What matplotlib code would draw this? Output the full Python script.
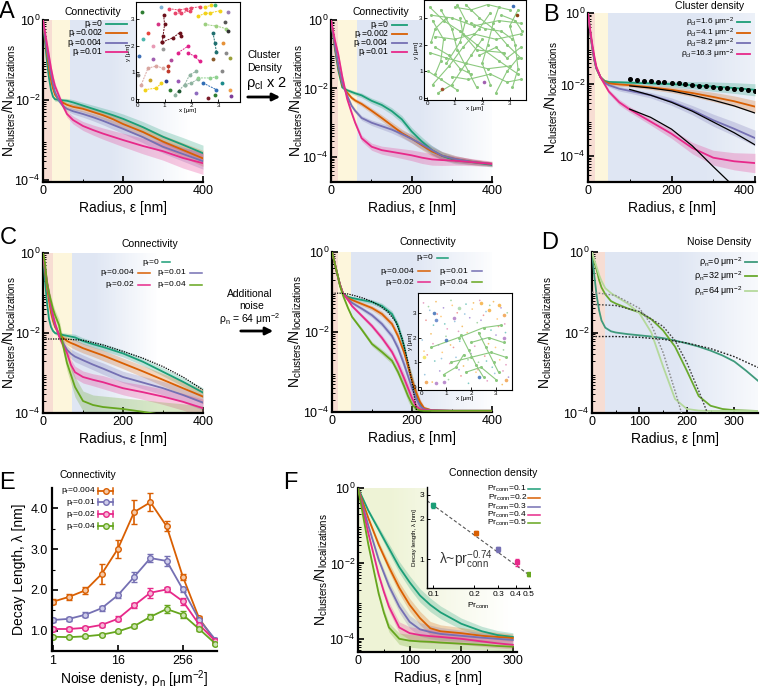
import numpy as np
import matplotlib
matplotlib.use('Agg')
import matplotlib.pyplot as plt
from matplotlib.lines import Line2D
from matplotlib.patches import FancyArrowPatch
from matplotlib.ticker import LogLocator, NullFormatter, NullLocator
from matplotlib.colors import to_rgb

plt.rcParams['font.family'] = ['Liberation Sans', 'DejaVu Sans']
plt.rcParams['mathtext.fontset'] = 'custom'
plt.rcParams['mathtext.rm'] = 'Liberation Sans'
plt.rcParams['mathtext.it'] = 'Liberation Sans:italic'
plt.rcParams['mathtext.bf'] = 'Liberation Sans:bold'

W, H = 763, 692
TEAL, ORANGE, PURPLE, PINK, LIME = '#1b9e77', '#d95f02', '#7570b3', '#e7298a', '#66a61e'

# ---------------- data (log10 of Nclusters/Nlocalizations) ----------------
# A: connectivity, base cluster density
r_a = [0, 5, 10, 15, 20, 25, 30, 40, 50, 60, 75, 100, 125, 150, 175, 200, 250, 300, 350, 400]
a_p0 = [0, -0.55, -1.05, -1.45, -1.75, -1.92, -1.98, -2.0, -2.01, -2.02, -2.06, -2.14, -2.22, -2.3, -2.38, -2.47, -2.68, -2.92, -3.12, -3.33]
a_p002 = [0, -0.45, -0.85, -1.2, -1.5, -1.72, -1.87, -2.0, -2.07, -2.12, -2.17, -2.22, -2.3, -2.38, -2.48, -2.6, -2.8, -3.04, -3.25, -3.46]
a_p004 = [0, -0.4, -0.75, -1.05, -1.35, -1.6, -1.8, -2.02, -2.15, -2.22, -2.28, -2.35, -2.43, -2.52, -2.62, -2.72, -2.93, -3.17, -3.35, -3.53]
a_p01 = [0, -0.3, -0.6, -0.9, -1.2, -1.45, -1.65, -1.9, -2.15, -2.35, -2.5, -2.65, -2.75, -2.84, -2.92, -3.0, -3.15, -3.28, -3.45, -3.58]
a_err = [0, 0.02, 0.03, 0.04, 0.04, 0.05, 0.05, 0.05, 0.05, 0.06, 0.07, 0.08, 0.09, 0.1, 0.11, 0.12, 0.14, 0.16, 0.18, 0.2]

# A2: cluster density x 2
r_a2 = [0, 10, 18, 28, 40, 51, 60, 76, 101, 126, 151, 176, 200, 226, 251, 276, 309, 350, 400]
a2_p0 = [0, -0.87, -1.46, -1.97, -2.05, -2.1, -2.14, -2.2, -2.36, -2.48, -2.66, -2.9, -3.25, -3.55, -3.8, -3.97, -4.1, -4.15, -4.23]
a2_p002 = [0, -0.8, -1.35, -1.9, -2.12, -2.27, -2.35, -2.45, -2.65, -2.86, -3.08, -3.3, -3.46, -3.66, -3.84, -3.96, -4.06, -4.14, -4.2]
a2_p004 = [0, -0.75, -1.3, -1.85, -2.2, -2.5, -2.65, -2.86, -3.0, -3.1, -3.2, -3.33, -3.47, -3.63, -3.8, -3.96, -4.06, -4.14, -4.2]
a2_p01 = [0, -0.6, -1.0, -1.65, -2.3, -2.7, -3.0, -3.45, -3.7, -3.8, -3.85, -3.9, -3.95, -4.02, -4.07, -4.09, -4.11, -4.15, -4.2]
a2_err = [0, 0.03, 0.04, 0.05, 0.05, 0.06, 0.06, 0.07, 0.08, 0.09, 0.1, 0.11, 0.12, 0.13, 0.13, 0.12, 0.1, 0.08, 0.06]

# B: cluster density
r_b = [0, 5, 10, 15, 20, 30, 40, 50, 75, 100, 150, 200, 250, 300, 350, 400]
b_16 = [0, -0.5, -0.95, -1.3, -1.55, -1.8, -1.9, -1.93, -1.94, -1.95, -1.97, -1.99, -2.02, -2.06, -2.1, -2.15]
b_41 = [0, -0.5, -0.95, -1.3, -1.55, -1.8, -1.92, -1.97, -2.0, -2.02, -2.08, -2.15, -2.24, -2.35, -2.47, -2.62]
b_82 = [0, -0.5, -0.95, -1.3, -1.55, -1.8, -1.95, -2.02, -2.12, -2.18, -2.3, -2.48, -2.72, -3.0, -3.24, -3.5]
b_163 = [0, -0.45, -0.85, -1.2, -1.5, -1.8, -2.0, -2.2, -2.5, -2.7, -3.04, -3.38, -3.78, -4.05, -4.15, -4.2]
b_err = [0, 0.02, 0.03, 0.03, 0.03, 0.04, 0.04, 0.04, 0.05, 0.05, 0.06, 0.08, 0.1, 0.13, 0.15, 0.17]
r_bdots = [100, 117, 133, 150, 167, 183, 200, 217, 233, 250, 267, 283, 300, 317, 333, 350, 367, 383, 400]
b_dots16 = [-1.86, -1.87, -1.89, -1.9, -1.92, -1.93, -1.95, -1.97, -1.99, -2.01, -2.03, -2.05, -2.07, -2.09, -2.1, -2.12, -2.14, -2.15, -2.17]
r_bfit = [100, 150, 200, 250, 300, 350, 400]
b_fit41 = [-2.04, -2.1, -2.18, -2.3, -2.44, -2.6, -2.8]
b_fit82 = [-2.14, -2.3, -2.5, -2.75, -3.05, -3.35, -3.69]
r_bfit163 = [100, 150, 200, 250, 300, 340]
b_fit163 = [-2.69, -2.92, -3.25, -3.72, -4.3, -4.75]

# C: connectivity, no noise
r_c = [0, 5, 10, 15, 20, 25, 30, 40, 50, 60, 70, 80, 100, 125, 150, 200, 250, 300, 350, 400]
c_p0 = [0, -0.7, -1.25, -1.65, -1.85, -1.95, -2.0, -2.03, -2.05, -2.07, -2.09, -2.11, -2.2, -2.28, -2.35, -2.51, -2.72, -2.97, -3.22, -3.49]
c_p004 = [0, -0.45, -0.85, -1.2, -1.5, -1.7, -1.85, -2.02, -2.12, -2.2, -2.25, -2.29, -2.38, -2.47, -2.56, -2.76, -2.96, -3.17, -3.38, -3.59]
c_p01 = [0, -0.4, -0.75, -1.05, -1.35, -1.6, -1.8, -2.05, -2.25, -2.42, -2.52, -2.59, -2.68, -2.79, -2.89, -3.1, -3.24, -3.38, -3.55, -3.74]
c_p02 = [0, -0.35, -0.7, -1.0, -1.3, -1.55, -1.75, -2.08, -2.3, -2.5, -2.8, -2.98, -3.1, -3.17, -3.23, -3.38, -3.48, -3.59, -3.72, -3.88]
c_p04 = [0, -0.25, -0.75, -1.0, -1.2, -1.4, -1.55, -1.8, -2.3, -2.75, -3.05, -3.35, -3.7, -3.8, -3.85, -3.9, -3.97, -4.05, -4.12, -4.2]
c_err = [0, 0.02, 0.03, 0.04, 0.04, 0.05, 0.05, 0.06, 0.07, 0.08, 0.09, 0.1, 0.1, 0.1, 0.11, 0.11, 0.12, 0.13, 0.14, 0.15]
r_cfit = [0, 50, 100, 150, 200, 250, 300, 350, 400]
c_fit = [-2.15, -2.15, -2.18, -2.3, -2.46, -2.63, -2.84, -3.1, -3.42]

# C2: connectivity + noise 64 um^-2
r_c2 = [0, 5, 10, 15, 20, 28, 40, 50, 75, 100, 125, 150, 165, 180, 190, 200, 210, 220, 230, 250, 300, 350, 400]
c2_p0 = [0, -0.2, -0.42, -0.62, -0.82, -1.05, -1.12, -1.15, -1.2, -1.25, -1.35, -1.55, -1.85, -2.35, -2.85, -3.2, -3.55, -3.8, -3.93, -3.96, -3.97, -3.97, -3.97]
c2_p004 = [0, -0.2, -0.42, -0.62, -0.82, -1.05, -1.15, -1.2, -1.3, -1.4, -1.55, -1.8, -2.1, -2.5, -2.85, -3.2, -3.5, -3.75, -3.9, -3.96, -3.97, -3.97, -3.97]
c2_p01 = [0, -0.2, -0.42, -0.62, -0.82, -1.05, -1.18, -1.27, -1.42, -1.58, -1.8, -2.1, -2.4, -2.8, -3.1, -3.4, -3.65, -3.85, -3.93, -3.96, -3.97, -3.97, -3.97]
c2_p02 = [0, -0.2, -0.42, -0.62, -0.82, -1.05, -1.2, -1.35, -1.6, -1.85, -2.15, -2.5, -2.8, -3.15, -3.4, -3.65, -3.85, -3.93, -3.95, -3.96, -3.97, -3.97, -3.97]
c2_p04 = [0, -0.2, -0.42, -0.62, -0.85, -1.1, -1.4, -1.62, -1.95, -2.3, -2.5, -2.72, -3.0, -3.35, -3.6, -3.8, -3.92, -3.96, -3.97, -3.97, -3.97, -3.97, -3.97]
c2_err = [0, 0.02, 0.02, 0.03, 0.03, 0.03, 0.04, 0.04, 0.05, 0.06, 0.07, 0.08, 0.1, 0.12, 0.13, 0.14, 0.12, 0.08, 0.05, 0.03, 0.02, 0.02, 0.02]
r_c2fit = [0, 20, 40, 60, 80, 100, 120, 140, 160, 175, 190, 200, 212]
c2_fit = [-1.03, -1.03, -1.05, -1.1, -1.16, -1.24, -1.35, -1.5, -1.75, -2.15, -2.75, -3.25, -4.0]

# D: noise density
r_d = [0, 5, 10, 15, 20, 28, 40, 50, 75, 100, 125, 150, 175, 200, 225, 250, 275, 300, 325, 350]
d_0 = [0, -0.6, -1.1, -1.45, -1.7, -1.88, -1.97, -2.0, -2.04, -2.07, -2.1, -2.14, -2.2, -2.27, -2.35, -2.45, -2.57, -2.72, -2.95, -3.2]
d_32 = [0, -0.25, -0.45, -0.7, -0.88, -1.05, -1.22, -1.28, -1.4, -1.5, -1.67, -1.95, -2.35, -2.95, -3.58, -3.82, -3.9, -3.93, -3.94, -3.95]
d_64 = [0, -0.2, -0.38, -0.57, -0.72, -0.9, -1.02, -1.1, -1.28, -1.52, -2.0, -2.85, -3.65, -3.9, -3.94, -3.95, -3.95, -3.95, -3.95, -3.95]
r_dfit0 = [0, 50, 100, 150, 200, 250, 300, 350]
d_fit0 = [-2.1, -2.1, -2.12, -2.17, -2.26, -2.4, -2.6, -2.87]
r_dfit32 = [0, 50, 100, 150, 175, 200, 225, 245]
d_fit32 = [-1.3, -1.33, -1.48, -1.85, -2.2, -2.75, -3.45, -4.05]
r_dfit64 = [0, 50, 100, 125, 150, 175, 190]
d_fit64 = [-1.0, -1.08, -1.4, -1.8, -2.5, -3.45, -4.05]

# E: decay length vs noise density
e_rho = [1, 2, 4, 8, 16, 32, 64, 128, 256, 512, 1024]
e_004 = [1.71, 1.83, 1.99, 2.39, 3.01, 3.91, 4.15, 3.56, 2.32, 1.30, 0.74]
e_004_err = [0.06, 0.08, 0.09, 0.24, 0.22, 0.3, 0.22, 0.12, 0.08, 0.05, 0.04]
e_01 = [1.26, 1.29, 1.39, 1.55, 1.87, 2.32, 2.78, 2.71, 2.01, 1.27, 0.78]
e_01_err = [0.05, 0.05, 0.06, 0.06, 0.07, 0.13, 0.1, 0.12, 0.06, 0.05, 0.04]
e_02 = [1.04, 1.04, 1.07, 1.14, 1.29, 1.62, 1.93, 2.01, 1.72, 1.15, 0.74]
e_02_err = [0.04, 0.04, 0.04, 0.05, 0.06, 0.07, 0.12, 0.07, 0.08, 0.05, 0.04]
e_04 = [0.85, 0.84, 0.86, 0.90, 0.98, 1.11, 1.34, 1.53, 1.39, 1.04, 0.68]
e_04_err = [0.03, 0.03, 0.03, 0.04, 0.04, 0.05, 0.06, 0.1, 0.08, 0.05, 0.04]

# F: connection density
r_f = [0, 10, 20, 30, 40, 50, 60, 80, 100, 120, 140, 160, 200, 240, 270, 300]
f_01 = [0, -0.3, -0.6, -0.85, -1.1, -1.35, -1.6, -2.1, -2.5, -2.85, -3.1, -3.3, -3.6, -3.8, -3.9, -3.95]
f_02 = [0, -0.4, -0.8, -1.15, -1.5, -1.8, -2.1, -2.65, -3.1, -3.45, -3.72, -3.8, -3.85, -3.92, -3.95, -3.98]
f_03 = [0, -0.5, -1.0, -1.45, -1.9, -2.25, -2.6, -3.15, -3.55, -3.75, -3.82, -3.87, -3.92, -3.97, -4.0, -4.03]
f_04 = [0, -0.6, -1.2, -1.75, -2.3, -2.75, -3.15, -3.7, -3.85, -3.9, -3.93, -3.95, -4.0, -4.07, -4.12, -4.16]
f_05 = [0, -0.75, -1.5, -2.15, -2.8, -3.3, -3.7, -4.0, -4.05, -4.07, -4.08, -4.1, -4.13, -4.16, -4.19, -4.21]
f_err = [0, 0.03, 0.05, 0.06, 0.08, 0.1, 0.12, 0.15, 0.17, 0.18, 0.18, 0.17, 0.15, 0.13, 0.12, 0.11]
conn_p = [0.1, 0.207, 0.30, 0.41, 0.5]
conn_lam = [2.52, 1.56, 1.18, 0.95, 0.77]
conn_err = [0.1, 0.06, 0.05, 0.06, 0.02]
conn_fit_p = [0.09, 0.51]
conn_fit_lam = [2.72, 0.755]

# inset A: isolated clusters (x, y in um) and connected chains
ins_a_pts = [(0.16, 3.25, '#2e7d32'), (0.88, 3.45, '#7fb3d5'), (2.88, 3.5, '#3cb371'), (3.38, 3.25, '#9b7fb3'),
             (0.75, 2.79, '#d63384'), (0.38, 2.48, '#e8453c'), (3.38, 2.54, '#333333'), (0.19, 2.23, '#4db6ac'),
             (0.56, 1.98, '#e89ab5'), (0.94, 1.88, '#999999'), (3.19, 2.1, '#e69138'), (3.31, 1.73, '#8a8a8a'),
             (0.06, 1.6, '#3d6fb6'), (0.56, 1.48, '#a05fb0'), (2.81, 1.48, '#8b5a2b'), (3.44, 1.54, '#9aa03a'),
             (0.44, 0.73, '#c9a227'), (1.19, 0.35, '#2e7d32'), (1.06, 0.66, '#2b3d8f'), (1.5, 0.66, '#9b59b6'),
             (2.19, 0.23, '#8e6bbf'), (2.63, 0.04, '#7b1d2a'), (2.88, 0.16, '#2e7d32'), (3.5, 0.1, '#7d3c98'),
             (3.44, 0.35, '#f0a04b'), (3.13, 0.6, '#1b8a8a'), (3.13, 1.04, '#888888'), (1.54, 0.29, '#1e5631'),
             (0.02, 0.9, '#777777'), (3.25, 2.9, '#555555'), (1.25, 1.45, '#b04a9b')]
ins_a_chains = [('#e8456b', [1.16, 1.54, 1.81, 2.0, 2.31], [3.38, 3.33, 3.38, 3.41, 3.45]),
                ('#e8456b', [1.4, 1.63, 1.94], [3.2, 3.23, 3.29]),
                ('#f2d21b', [2.25, 2.5, 2.69, 3.06], [3.1, 3.2, 3.22, 3.3]),
                ('#f2d21b', [2.5, 2.75], [3.45, 3.5]),
                ('#6b0f1a', [0.96, 1.0, 0.94, 0.91], [3.16, 2.79, 2.35, 2.13]),
                ('#6b0f1a', [0.91, 1.31, 1.56, 1.63], [2.13, 2.29, 2.48, 2.35]),
                ('#9ccf7f', [2.5, 2.94, 3.31], [2.79, 2.73, 2.63]),
                ('#1f6f6f', [2.81, 2.88, 2.94], [2.48, 2.1, 1.75]),
                ('#e0218a', [1.5, 1.88], [1.73, 1.98]),
                ('#e0218a', [1.88, 2.13, 2.31], [1.72, 1.6, 1.41]),
                ('#d9a6a0', [0.13, 0.38, 0.69, 0.94], [0.54, 1.16, 1.23, 1.16]),
                ('#c0392b', [1.13, 1.13], [1.04, 1.22]),
                ('#f2d21b', [0.25, 0.69, 0.88], [0.35, 0.41, 0.6]),
                ('#8fb3a0', [1.38, 1.75, 1.94, 2.19], [0.16, 0.54, 0.91, 1.04]),
                ('#8fb3a0', [1.75, 2.0, 2.25], [0.54, 0.6, 0.75]),
                ('#8fd18f', [2.25, 2.69, 2.94], [0.79, 0.79, 0.83]),
                ('#2f6db5', [2.44, 2.94], [0.6, 0.35])]

# inset A2: one big connected network
ins_a2_net = [([0.1, 0.6, 1.2, 1.8, 2.6, 3.3], [3.4, 2.9, 2.5, 2.0, 1.4, 0.9]),
              ([0.2, 0.8, 1.3, 1.9, 2.3], [0.5, 1.2, 1.9, 2.6, 3.2]),
              ([0.3, 1.0, 1.7, 2.5, 3.4], [2.3, 2.2, 2.4, 2.2, 2.4]),
              ([0.5, 0.9, 1.1, 1.5, 1.8], [3.3, 2.6, 1.8, 1.0, 0.4]),
              ([1.4, 1.9, 2.4, 2.9, 3.4], [3.5, 3.0, 2.6, 2.0, 1.5]),
              ([0.1, 0.7, 1.4, 2.2, 3.0], [1.7, 1.5, 1.3, 1.1, 1.2]),
              ([2.6, 2.4, 2.2, 2.0, 2.3], [3.4, 2.8, 2.0, 1.3, 0.5]),
              ([0.2, 0.6, 0.5, 0.3], [2.9, 2.2, 1.4, 0.9]),
              ([1.0, 1.6, 2.2, 3.0], [3.4, 3.3, 3.5, 3.3]),
              ([3.3, 3.0, 3.2, 3.3, 3.1], [3.3, 2.7, 2.0, 1.1, 0.4]),
              ([0.9, 1.5, 2.3, 2.9, 3.4], [0.8, 0.7, 0.9, 0.6, 0.7]),
              ([0.4, 0.9, 1.6, 2.0], [0.2, 0.5, 1.6, 2.2]),
              ([1.2, 1.3, 1.8, 2.8], [3.0, 2.4, 1.8, 1.7]),
              ([0.05, 0.5, 1.1], [1.0, 0.7, 0.3]),
              ([2.7, 3.2, 3.45], [3.1, 2.9, 2.5]),
              ([1.6, 2.1, 2.7, 3.1], [2.8, 2.6, 2.5, 2.2]),
              ([0.7, 0.3, 0.15], [3.0, 2.6, 2.1]),
              ([1.9, 2.5, 2.9, 3.4], [1.6, 1.9, 1.5, 1.9]),
              ([0.15, 0.9, 1.7, 2.6, 3.4], [3.1, 3.0, 2.7, 2.9, 2.8]),
              ([0.3, 0.8, 1.2, 1.6], [1.9, 1.6, 1.1, 0.9]),
              ([2.5, 2.9, 3.3], [0.2, 1.0, 1.5]),
              ([1.1, 1.4, 1.2, 0.7], [3.5, 2.9, 2.1, 1.3])]
ins_a2_pts = [(0.56, 0.33, '#a0522d'), (2.05, 0.61, '#a05fb0'), (3.11, 3.45, '#3d6fb6'), (3.26, 3.11, '#8b4513')]

# inset C2: network plus clusters plus noise localizations
ins_c2_net = [([0.4, 1.5, 2.5, 3.2], [1.6, 2.0, 2.4, 2.5]),
              ([1.6, 1.9, 2.2, 2.5], [2.1, 1.5, 0.9, 0.4]),
              ([1.2, 2.0, 2.8, 3.4], [1.0, 1.2, 1.4, 1.2]),
              ([2.3, 2.6, 2.9, 3.1], [2.2, 1.6, 1.0, 0.6]),
              ([1.8, 2.4, 3.0], [0.6, 0.8, 0.3]),
              ([0.9, 1.4, 1.7], [0.5, 0.8, 1.3]),
              ([2.0, 2.7, 3.3], [1.8, 2.0, 1.8])]
ins_c2_clusters = [(2.4, 3.4, '#f5b041'), (2.7, 3.1, '#f5b041'), (3.3, 2.9, '#f0a04b'), (3.1, 3.3, '#f5b041'),
                   (0.5, 3.0, '#3d6fb6'), (0.6, 2.7, '#5b7fc7'), (1.0, 1.9, '#3d6fb6'), (2.3, 0.4, '#3d6fb6'),
                   (1.3, 2.8, '#b07cc6'), (0.9, 0.2, '#b07cc6'), (0.2, 0.2, '#f0a04b'), (0.6, 0.15, '#b07cc6'),
                   (3.4, 0.3, '#f0a04b'), (0.1, 1.2, '#f2e35a'), (1.5, 3.2, '#a5d6a7'), (3.3, 2.0, '#b07cc6')]
noise_x = [0.1, 0.35, 0.6, 0.9, 1.2, 1.45, 1.8, 2.05, 2.35, 2.6, 2.9, 3.2, 3.45, 0.2, 0.5, 0.8, 1.05, 1.35, 1.65, 1.95,
           2.25, 2.5, 2.8, 3.05, 3.35, 0.05, 0.4, 0.7, 1.0, 1.3, 1.55, 1.85, 2.15, 2.45, 2.7, 3.0, 3.3, 0.25, 0.55, 0.85,
           1.15, 1.4, 1.7, 2.0, 2.3, 2.55, 2.85, 3.15, 3.4, 0.15, 0.45, 0.75, 1.1, 1.6, 1.9, 2.2, 2.65, 2.95, 3.25, 3.5,
           0.3, 0.65, 0.95, 1.25, 1.5, 1.75, 2.1, 2.4, 2.75, 3.1, 3.38, 0.12, 0.48, 0.82, 1.18, 1.52, 1.88, 2.28, 2.62,
           2.98, 3.28]
noise_y = [3.4, 3.1, 3.45, 3.2, 3.5, 3.0, 3.35, 3.15, 3.5, 3.05, 3.45, 3.2, 3.0, 2.7, 2.5, 2.85, 2.35, 2.65, 2.45, 2.8,
           2.6, 2.9, 2.3, 2.75, 2.55, 1.9, 2.15, 1.7, 2.05, 1.6, 1.85, 2.2, 1.65, 1.95, 1.75, 2.1, 1.5, 1.3, 1.05, 1.4,
           0.95, 1.2, 0.85, 1.35, 1.0, 1.25, 0.8, 1.1, 0.9, 0.5, 0.2, 0.65, 0.3, 0.45, 0.15, 0.6, 0.25, 0.55, 0.1, 0.4,
           3.25, 2.95, 2.55, 3.3, 2.25, 2.95, 3.4, 2.7, 3.3, 2.45, 2.2, 1.45, 1.75, 1.15, 1.7, 0.7, 1.1, 0.7, 1.05,
           1.6, 0.65]
noise_cols = ['#e6a0c4', '#9ec9e2', '#f5c16c', '#b39ddb', '#a5d6a7', '#ef9a9a', '#80cbc4', '#ffcc80']

NLAB = r'N$_{\mathrm{clusters}}$/N$_{\mathrm{localizations}}$'
PINKBG, YELBG, BLUEBG = '#f7ddd3', '#fdf6dc', '#dfe6f3'

fig = plt.figure(figsize=(W / 100, H / 100), dpi=100)


def fx(x):
    return x / W


def fy(y):
    return 1 - y / H


def px_axes(l, t, r, b):
    return fig.add_axes([fx(l), fy(b), (r - l) / W, (b - t) / H])


def ftext(x, y, s, size, ha='left', va='center', **kw):
    fig.text(fx(x), fy(y), s, fontsize=size, ha=ha, va=va, **kw)


def fline(x0, x1, y, color, lw=1.3, **kw):
    fig.add_artist(Line2D([fx(x0), fx(x1)], [fy(y), fy(y)], color=color, lw=lw, **kw))


def backdrop(ax, spans, x_blue, fade_a, fade_b, xmax, color=BLUEBG):
    for x0, x1, c in spans:
        ax.axvspan(x0, x1, color=c, lw=0, zorder=0, antialiased=False)
    rgb = np.array(to_rgb(color))
    edges = np.linspace(x_blue, xmax, 90)
    for a, b in zip(edges[:-1], edges[1:]):
        m = 0.5 * (a + b)
        k = 1.0 if m < fade_a else max(0.0, 1 - (m - fade_a) / (fade_b - fade_a))
        ax.axvspan(a, b, color=1 - k * (1 - rgb), lw=0, zorder=0, antialiased=False)


def radius_axes(rect, xmax, ybot, xmajor, xminor, lab_gap=26):
    ax = px_axes(*rect)
    ax.set_yscale('log')
    ax.set_xlim(0, xmax)
    ax.set_ylim(10 ** ybot, 1)
    ax.set_yticks([1, 1e-2, 1e-4])
    ax.yaxis.set_minor_locator(LogLocator(base=10, subs=np.arange(2, 10), numticks=20))
    ax.yaxis.set_minor_formatter(NullFormatter())
    ax.set_xticks(xmajor)
    ax.set_xticks(xminor, minor=True)
    for s in ['top', 'right']:
        ax.spines[s].set_visible(False)
    for s in ['left', 'bottom']:
        ax.spines[s].set_linewidth(1.6)
    ax.tick_params(direction='in', length=4, width=1.2, labelsize=9, pad=2)
    ax.tick_params(which='minor', direction='in', length=2, width=0.7)
    ax.set_xlabel('Radius, ε [nm]', fontsize=10, labelpad=3)
    ax.set_ylabel(NLAB, fontsize=10)
    ax.yaxis.set_label_coords(-lab_gap / (rect[2] - rect[0]), 0.5)
    return ax


def curve(ax, r, v, c, err=None, lw=1.3, alpha=0.25):
    r = np.asarray(r)
    v = np.asarray(v)
    if err is not None:
        e = np.asarray(err)
        ax.fill_between(r, 10 ** (v - e), 10 ** (v + e), color=c, alpha=alpha, lw=0, zorder=2)
    ax.plot(r, 10 ** v, color=c, lw=lw, zorder=3)


def fitline(ax, r, v, **kw):
    ax.plot(r, 10 ** np.asarray(v), zorder=4, **kw)


def inset_frame(ax, xlim, ylim):
    ax.set_xlim(*xlim)
    ax.set_ylim(*ylim)
    ax.set_facecolor('white')
    ax.set_xticks([0, 1, 2, 3])
    ax.set_yticks([0, 1, 2, 3])
    for s in ax.spines.values():
        s.set_linewidth(0.8)
    ax.tick_params(direction='in', length=2, width=0.6, labelsize=4.5, pad=1)
    ax.set_xlabel('x [μm]', fontsize=4.5, labelpad=0)
    ax.set_ylabel('y [μm]', fontsize=4.5, labelpad=0)


# ---------------- Panel A ----------------
ax = radius_axes((43, 20, 203, 182), 400, -4.05, [0, 200, 400], [100, 300], lab_gap=25)
backdrop(ax, [(0, 22, PINKBG), (22, 67, YELBG)], 67, 170, 370, 400)
for v, c, k in [(a_p0, TEAL, 1), (a_p002, ORANGE, 1), (a_p004, PURPLE, 1), (a_p01, PINK, 1.4)]:
    curve(ax, r_a, v, c, np.asarray(a_err) * k)
ftext(93, 12, 'Connectivity', 7.5, ha='center')
for y, lab, c in [(24, '0', TEAL), (33, '0.002', ORANGE), (43, '0.004', PURPLE), (52, '0.01', PINK)]:
    ftext(103, y, 'p$_{\\mathrm{r}}$=' + lab, 6.2, ha='right')
    fline(106, 127, y, c)

ins = px_axes(136, 2, 240, 102)
inset_frame(ins, (-0.07, 3.82), (-0.11, 3.63))
for col, xs, ys in ins_a_chains:
    ins.plot(xs, ys, ls=(0, (2, 1)), lw=0.7, color=col, marker='o', ms=2.8, mec='none')
for x, y, col in ins_a_pts:
    ins.plot([x], [y], 'o', ms=2.8, color=col, mec='none')

# arrow A -> A2
ftext(247, 55, 'Cluster', 7.5)
ftext(247, 68, 'Density', 7.5)
ftext(246, 83, 'ρ$_{\\mathrm{cl}}$ x 2', 10.5)
fig.add_artist(FancyArrowPatch((fx(245), fy(97)), (fx(283), fy(97)), transform=fig.transFigure,
                               arrowstyle='-|>', mutation_scale=11, lw=2, color='k'))

# ---------------- Panel A2 ----------------
ax = radius_axes((331, 20, 492, 182), 400, -4.73, [0, 200, 400], [100, 300])
backdrop(ax, [(0, 17, PINKBG), (17, 64, YELBG)], 64, 220, 420, 400)
for v, c, k in [(a2_p0, TEAL, 1), (a2_p002, ORANGE, 1), (a2_p004, PURPLE, 1), (a2_p01, PINK, 1.3)]:
    curve(ax, r_a2, v, c, np.asarray(a2_err) * k)
ftext(381, 12, 'Connectivity', 7.5, ha='center')
for y, lab, c in [(25, '0', TEAL), (34, '0.002', ORANGE), (43, '0.004', PURPLE), (52, '0.01', PINK)]:
    ftext(389, y, 'p$_{\\mathrm{r}}$=' + lab, 6.2, ha='right')
    fline(392, 407, y, c)

ins = px_axes(424, 0, 526, 100)
inset_frame(ins, (-0.11, 3.59), (-0.07, 3.67))
for xs, ys in ins_a2_net:
    ins.plot(xs, ys, lw=0.8, color='#8cc97f', marker='o', ms=2.2, mec='none')
for x, y, col in ins_a2_pts:
    ins.plot([x], [y], 'o', ms=2.6, color=col, mec='none')

# ---------------- Panel B ----------------
ax = radius_axes((588, 13, 755, 182), 400, -4.73, [0, 200, 400], [100, 300], lab_gap=28)
ax.get_xticklabels()[-1].set_horizontalalignment('right')
backdrop(ax, [(0, 17, PINKBG), (17, 48, YELBG)], 48, 280, 560, 400)
for v, c, k in [(b_16, TEAL, 1), (b_41, ORANGE, 1), (b_82, PURPLE, 1.3), (b_163, PINK, 1.6)]:
    curve(ax, r_b, v, c, np.asarray(b_err) * k)
ax.plot(r_bdots, 10 ** np.asarray(b_dots16), 'o', color='k', ms=2.6, zorder=4)
fitline(ax, r_bfit, b_fit41, color='k', lw=0.9)
fitline(ax, r_bfit, b_fit82, color='k', lw=0.9)
fitline(ax, r_bfit163, b_fit163, color='k', lw=0.9)
ftext(710, 6, 'Cluster density', 7.5, ha='center')
for y, lab, c in [(22, '1.6', TEAL), (33, '4.1', ORANGE), (43, '8.2', PURPLE), (54, '16.3', PINK)]:
    ftext(734, y, 'ρ$_{\\mathrm{cl}}$=' + lab + ' μm$^{-2}$', 6.0, ha='right')
    fline(737, 750, y, c)

# ---------------- Panel C ----------------
ax = radius_axes((43, 253, 203, 413), 400, -4.0, [0, 200, 400], [100, 300], lab_gap=25)
backdrop(ax, [(0, 25, PINKBG), (25, 72, YELBG)], 72, 130, 290, 400)
for v, c, k in [(c_p0, TEAL, 0.8), (c_p004, ORANGE, 1.2), (c_p01, PURPLE, 1.3), (c_p02, PINK, 1.5), (c_p04, LIME, 2.5)]:
    curve(ax, r_c, v, c, np.asarray(c_err) * k)
fitline(ax, r_cfit, c_fit, color='k', lw=0.9, ls=(0, (1, 1)))
ftext(150, 244, 'Connectivity', 7.5, ha='center')
for x_t, x0, x1, y, lab, c in [(160, 162, 170, 262, '0', TEAL), (135, 138, 150, 273, '0.004', ORANGE),
                               (187, 190, 202, 273, '0.01', PURPLE), (135, 138, 150, 285, '0.02', PINK),
                               (187, 190, 202, 285, '0.04', LIME)]:
    ftext(x_t, y, 'p$_{\\mathrm{r}}$=' + lab, 6, ha='right')
    fline(x0, x1, y, c, lw=1.1)

# arrow C -> C2
ftext(250, 294, 'Additional', 7.5, ha='center')
ftext(252, 306, 'noise', 7.5, ha='center')
ftext(250, 319, 'ρ$_{\\mathrm{n}}$ = 64 μm$^{-2}$', 7.5, ha='center')
fig.add_artist(FancyArrowPatch((fx(238), fy(331)), (fx(276), fy(331)), transform=fig.transFigure,
                               arrowstyle='-|>', mutation_scale=11, lw=2, color='k'))

# ---------------- Panel C2 ----------------
ax = radius_axes((332, 252, 492, 412), 400, -4.0, [0, 200, 400], [100, 300], lab_gap=28)
backdrop(ax, [(0, 15, PINKBG), (15, 48, YELBG)], 48, 200, 420, 400)
for v, c in [(c2_p0, TEAL), (c2_p004, ORANGE), (c2_p01, PURPLE), (c2_p02, PINK), (c2_p04, LIME)]:
    curve(ax, r_c2, v, c, c2_err)
fitline(ax, r_c2fit, c2_fit, color='k', lw=0.9, ls=(0, (1, 1)))
ftext(428, 242, 'Connectivity', 7.5, ha='center')
for x_t, x0, x1, y, lab, c in [(434, 437, 448, 258, '0', TEAL), (415, 418, 430, 271, '0.004', ORANGE),
                               (469, 472, 482, 271, '0.01', PURPLE), (415, 418, 430, 282, '0.02', PINK),
                               (469, 472, 482, 282, '0.04', LIME)]:
    ftext(x_t, y, 'p$_{\\mathrm{r}}$=' + lab, 6, ha='right')
    fline(x0, x1, y, c, lw=1.1)

ins = px_axes(418, 293, 512, 390)
inset_frame(ins, (-0.12, 3.64), (-0.12, 3.8))
ins.scatter(noise_x, noise_y, s=1.5, c=[noise_cols[i % 8] for i in range(len(noise_x))], lw=0)
for xs, ys in ins_c2_net:
    ins.plot(xs, ys, lw=0.8, color='#8cc97f', marker='o', ms=2.2, mec='none')
for x, y, col in ins_c2_clusters:
    ins.plot([x], [y], 'o', ms=2.6, color=col, mec='none', alpha=0.85)

# ---------------- Panel D ----------------
ax = radius_axes((592, 252, 758, 413), 350, -4.0, [0, 100, 200, 300], [50, 150, 250], lab_gap=38)
backdrop(ax, [(0, 28, PINKBG)], 28, 180, 400, 350)
D0, D32, D64 = '#3f9a7c', '#6aaa2f', '#b5d99c'
curve(ax, r_d, d_0, D0)
curve(ax, r_d, d_32, D32)
curve(ax, r_d, d_64, D64)
fitline(ax, r_dfit0, d_fit0, color='#222222', lw=1.0, ls=(0, (1.2, 1.2)))
fitline(ax, r_dfit32, d_fit32, color='#444444', lw=1.0, ls=(0, (1.2, 1.2)))
fitline(ax, r_dfit64, d_fit64, color='#888888', lw=1.0, ls=(0, (1.2, 1.2)))
ftext(719, 242, 'Noise Density', 7.5, ha='center')
for y, lab, c in [(262, '0', D0), (276, '32', D32), (291, '64', D64)]:
    ftext(742, y, 'ρ$_{\\mathrm{n}}$=' + lab + ' μm$^{-2}$', 6.5, ha='right')
    fline(745, 757, y, c)

# ---------------- Panel E ----------------
ax = px_axes(52, 488, 217, 651)
ax.set_xscale('log', base=2)
ax.set_xlim(2 ** -0.06, 2 ** 10.1)
ax.set_ylim(0.5, 4.5)
ax.set_xticks([1, 16, 256])
ax.set_xticklabels(['1', '16', '256'])
ax.xaxis.set_minor_locator(NullLocator())
ax.set_yticks([1, 2, 3, 4])
ax.set_yticklabels(['1.0', '2.0', '3.0', '4.0'])
ax.set_yticks([1.5, 2.5, 3.5], minor=True)
for s in ['top', 'right']:
    ax.spines[s].set_visible(False)
for s in ['left', 'bottom']:
    ax.spines[s].set_linewidth(1.6)
ax.tick_params(direction='in', length=4, width=1.2, labelsize=9, pad=3)
ax.tick_params(which='minor', direction='in', length=2.5, width=0.8)
ax.set_ylabel('Decay Length, λ [nm]', fontsize=10, labelpad=3)
ax.set_xlabel('Noise denisty, ρ$_{\\mathrm{n}}$ [μm$^{-2}$]', fontsize=10, labelpad=1)
for v, err, c, lc in [(e_004, e_004_err, ORANGE, '#f6c9a6'), (e_01, e_01_err, PURPLE, '#cfcdea'),
                      (e_02, e_02_err, PINK, '#f7b6d6'), (e_04, e_04_err, LIME, '#cde3b3')]:
    ax.errorbar(e_rho, v, yerr=err, color=c, lw=1.3, marker='o', ms=4, mfc=lc, mec=c, mew=1,
                capsize=2.5, elinewidth=1.2, capthick=1.2)
ftext(88, 475, 'Connectivity', 7.5, ha='center')
for y, lab, c, lc in [(491, '0.004', ORANGE, '#f6c9a6'), (502, '0.01', PURPLE, '#cfcdea'),
                      (514, '0.02', PINK, '#f7b6d6'), (526, '0.04', LIME, '#cde3b3')]:
    ftext(96, y, 'p$_{\\mathrm{r}}$=' + lab, 6, ha='right')
    fline(98, 113, y, c)
    fig.add_artist(Line2D([fx(98), fx(98)], [fy(y - 3), fy(y + 3)], color=c, lw=1.1))
    fig.add_artist(Line2D([fx(113), fx(113)], [fy(y - 3), fy(y + 3)], color=c, lw=1.1))
    fig.add_artist(Line2D([fx(105.5)], [fy(y)], marker='o', ms=4, color=c, mfc=lc, mew=1))

# ---------------- Panel F ----------------
ax = radius_axes((358, 488, 517, 652), 308, -4.35, [0, 100, 200, 300], [50, 150, 250], lab_gap=28)
backdrop(ax, [], 0, 60, 300, 308, color='#eef3d6')
for v, c in [(f_01, TEAL), (f_02, ORANGE), (f_03, PURPLE), (f_04, PINK), (f_05, LIME)]:
    curve(ax, r_f, v, c, f_err)

ins = px_axes(427, 487, 530, 588)
ins.set_xscale('log')
ins.set_yscale('log')
ins.set_xlim(0.09, 0.51)
ins.set_ylim(0.61, 3.44)
ins.set_facecolor('white')
for s in ['top', 'right']:
    ins.spines[s].set_visible(False)
for s in ['left', 'bottom']:
    ins.spines[s].set_linewidth(1.0)
ins.set_xticks([0.1, 0.2, 0.3, 0.4, 0.5])
ins.set_xticklabels(['0.1', '0.2', '0.3', '0.4', '0.5'])
ins.set_yticks([1, 2, 3])
ins.set_yticklabels(['1', '2', '3'])
ins.xaxis.set_minor_locator(NullLocator())
ins.yaxis.set_minor_locator(NullLocator())
ins.tick_params(direction='in', length=2, width=0.7, labelsize=6, pad=2)
ins.set_ylabel('Decay length, λ [nm]', fontsize=4.5, labelpad=2)
ins.set_xlabel('P$\\mathrm{r}_{\\mathrm{conn}}$', fontsize=6, labelpad=2)
ins.plot(conn_fit_p, conn_fit_lam, color='#555555', lw=0.8, ls=(0, (3, 2)))
for p, lam, e, c in zip(conn_p, conn_lam, conn_err, [TEAL, ORANGE, PURPLE, PINK, LIME]):
    ins.errorbar([p], [lam], yerr=[e], color=c, marker='s', ms=3, capsize=1.5, elinewidth=1, capthick=1)
ins.text(0.11, 0.92, 'λ~p$\\mathrm{r}_{\\mathrm{conn}}^{-0.74}$', fontsize=10, color='#333333')
ftext(493, 473, 'Connection density', 7.5, ha='center')
for y, lab, c in [(489, '0.1', TEAL), (498, '0.2', ORANGE), (507, '0.3', PURPLE), (515, '0.4', PINK), (523, '0.5', LIME)]:
    ftext(527, y, 'P$\\mathrm{r}_{\\mathrm{conn}}$=' + lab, 6, ha='right')
    fline(528, 540, y, c, lw=1.1)

# panel letters
for x, y, s in [(7, 12, 'A'), (551, 15, 'B'), (8, 238, 'C'), (550, 243, 'D'), (7, 483, 'E'), (290, 483, 'F')]:
    ftext(x, y, s, 17, ha='center')

fig.savefig('out.png', dpi=100)
